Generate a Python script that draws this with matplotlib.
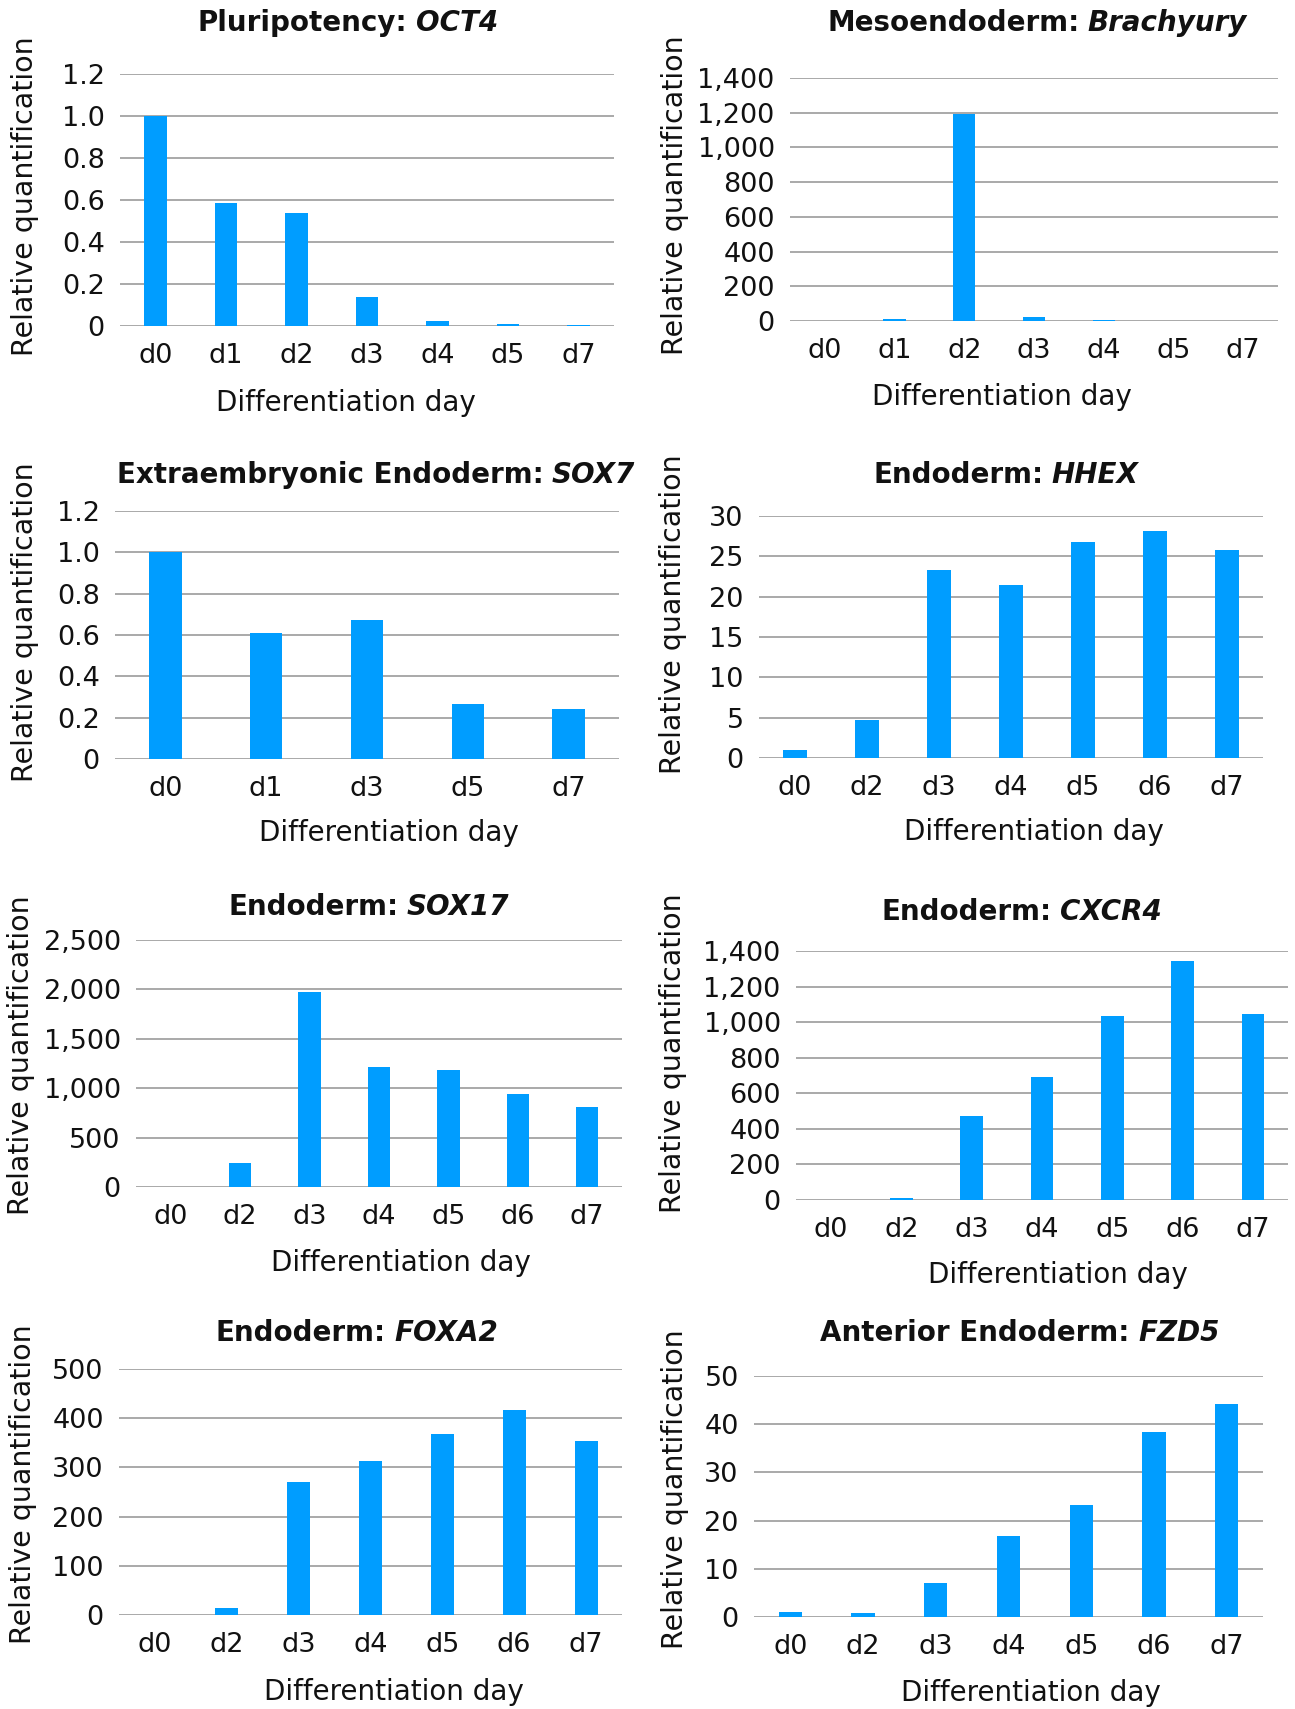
import matplotlib.pyplot as plt
from matplotlib.offsetbox import TextArea, HPacker, AnchoredOffsetbox
from matplotlib.ticker import FuncFormatter

plt.rcParams['font.family'] = ['DejaVu Sans']

W, H = 1295, 1709
BLUE = '#009DFF'
GRID = '#a3a3a3'
INK = '#111111'

# data
oct4_days = ['d0', 'd1', 'd2', 'd3', 'd4', 'd5', 'd7']
oct4 = [1.0, 0.585, 0.54, 0.14, 0.025, 0.01, 0.003]

bra_days = ['d0', 'd1', 'd2', 'd3', 'd4', 'd5', 'd7']
brachyury = [1, 14, 1195, 22, 5, 0.5, 0.3]

sox7_days = ['d0', 'd1', 'd3', 'd5', 'd7']
sox7 = [1.0, 0.61, 0.675, 0.265, 0.24]

late_days = ['d0', 'd2', 'd3', 'd4', 'd5', 'd6', 'd7']
hhex = [1.0, 4.7, 23.3, 21.5, 26.8, 28.1, 25.8]
sox17 = [5, 243, 1970, 1216, 1182, 946, 811]
cxcr4 = [1, 11, 474, 689, 1035, 1344, 1045]
foxa2 = [1, 15, 270, 312, 368, 417, 353]
fzd5 = [1.1, 0.9, 7.1, 16.9, 23.3, 38.4, 44.2]

# (prefix, gene, days, values, yticks, decimals,
#  left, right, top, bottom, title xy, xlabel xy, ylabel xy)  -- pixel positions
panels = [
    ('Pluripotency:', 'OCT4', oct4_days, oct4, [0, 0.2, 0.4, 0.6, 0.8, 1.0, 1.2], 1,
     120, 614, 74, 326, (348, 23), (346, 403), (25, 196)),
    ('Mesoendoderm:', 'Brachyury', bra_days, brachyury, list(range(0, 1401, 200)), 0,
     790, 1278, 78, 321, (1037, 23), (1002, 397), (675, 195)),
    ('Extraembryonic Endoderm:', 'SOX7', sox7_days, sox7, [0, 0.2, 0.4, 0.6, 0.8, 1.0, 1.2], 1,
     115, 619, 511, 759, (376, 475), (389, 833), (25, 622)),
    ('Endoderm:', 'HHEX', late_days, hhex, list(range(0, 31, 5)), 0,
     759, 1263, 516, 758, (1006, 475), (1034, 832), (673, 614)),
    ('Endoderm:', 'SOX17', late_days, sox17, list(range(0, 2501, 500)), 0,
     136, 622, 940, 1187, (369, 907), (401, 1263), (21, 1055)),
    ('Endoderm:', 'CXCR4', late_days, cxcr4, list(range(0, 1401, 200)), 0,
     796, 1288, 951, 1200, (1022, 912), (1058, 1275), (673, 1053)),
    ('Endoderm:', 'FOXA2', late_days, foxa2, list(range(0, 501, 100)), 0,
     119, 622, 1369, 1615, (357, 1333), (394, 1692), (23, 1484)),
    ('Anterior Endoderm:', 'FZD5', late_days, fzd5, list(range(0, 51, 10)), 0,
     754, 1263, 1376, 1617, (1020, 1333), (1031, 1693), (675, 1489)),
]

fig = plt.figure(figsize=(W / 100, H / 100), dpi=100)

def fx(x):
    return x / W

def fy(y):
    return 1 - y / H

for (pre, gene, days, vals, yt, dec, l, r, t, b, tt, xl, yl) in panels:
    ax = fig.add_axes([fx(l), fy(b), (r - l) / W, (b - t) / H])
    x = list(range(len(days)))
    ax.bar(x, vals, width=0.32, color=BLUE, zorder=3)
    ax.set_xlim(-0.5, len(days) - 0.5)
    ax.set_ylim(0, yt[-1])
    ax.set_yticks(yt)
    if dec:
        ax.yaxis.set_major_formatter(FuncFormatter(lambda v, p: '0' if v == 0 else f'{v:.1f}'))
    else:
        ax.yaxis.set_major_formatter(FuncFormatter(lambda v, p: f'{v:,.0f}'))
    ax.set_xticks(x)
    ax.set_xticklabels(days)
    ax.tick_params(axis='both', length=0, labelsize=19.5, colors=INK)
    ax.tick_params(axis='x', pad=12)
    ax.tick_params(axis='y', pad=11)
    for s in ax.spines.values():
        s.set_visible(False)
    ax.yaxis.grid(True, color=GRID, lw=1.3, zorder=0)
    ax.set_axisbelow(True)
    ax.set_xlabel('Differentiation day', fontsize=20, color=INK, va='center')
    ax.xaxis.set_label_coords(fx(xl[0]), fy(xl[1]), transform=fig.transFigure)
    ax.set_ylabel('Relative quantification', fontsize=20.5, color=INK, va='center')
    ax.yaxis.set_label_coords(fx(yl[0]), fy(yl[1]), transform=fig.transFigure)

    box = HPacker(children=[
        TextArea(pre, textprops=dict(weight='bold', size=20, color=INK)),
        TextArea(gene, textprops=dict(weight='bold', style='italic', size=20, color=INK)),
    ], align='baseline', pad=0, sep=6)
    fig.add_artist(AnchoredOffsetbox(loc='center', child=box, frameon=False, pad=0, borderpad=0,
                                     bbox_to_anchor=(fx(tt[0]), fy(tt[1])),
                                     bbox_transform=fig.transFigure))

fig.savefig('out.png', dpi=100)
